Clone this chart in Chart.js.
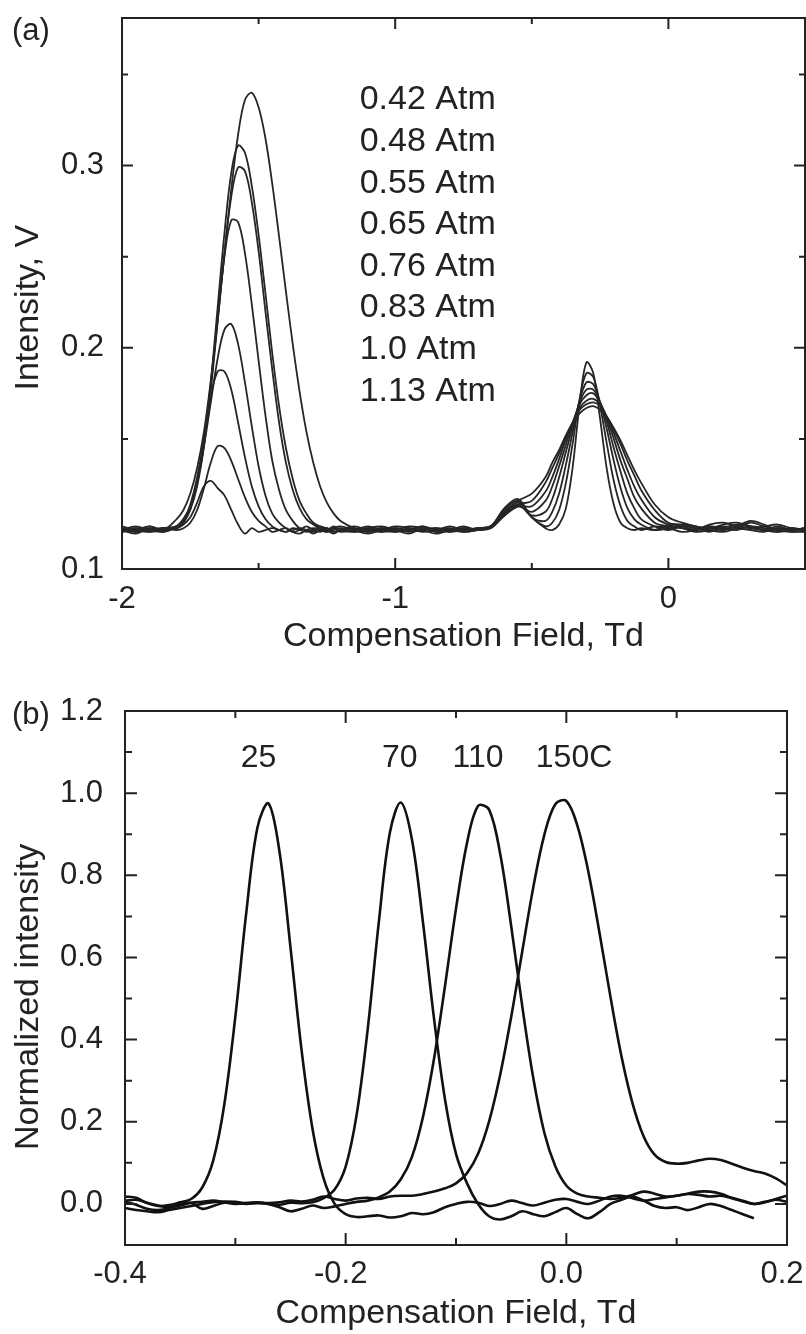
<!DOCTYPE html>
<html lang="en">
<head>
<meta charset="UTF-8">
<title>Compensation field spectra</title>
<script src="https://cdn.jsdelivr.net/npm/chart.js"></script>
<style>
  body { margin: 0; background: #fff; }
  .panel { width: 806px; height: 667px; }
  canvas { display: block; }
</style>
</head>
<body>
<div class="panel"><canvas id="chartA" width="806" height="667"></canvas></div>
<div class="panel"><canvas id="chartB" width="806" height="667"></canvas></div>
<script>
// ---- panel (a): intensity vs compensation field at several pressures ----
const fieldA = [-2.00, -1.95, -1.90, -1.85, -1.80,
  -1.775, -1.75, -1.725, -1.70, -1.675, -1.65, -1.625, -1.60, -1.575, -1.55,
  -1.525, -1.50, -1.475, -1.45, -1.425, -1.40, -1.375, -1.35, -1.325, -1.30,
  -1.275, -1.25, -1.225, -1.20,
  -1.15, -1.10, -1.05, -1.00, -0.95, -0.90, -0.85, -0.80, -0.75, -0.70,
  -0.65, -0.60, -0.55, -0.50, -0.45,
  -0.425, -0.40, -0.375, -0.35, -0.325, -0.30, -0.275, -0.25, -0.225, -0.20, -0.175, -0.15, -0.125, -0.10,
  -0.05, 0.00, 0.05, 0.10, 0.15, 0.20, 0.25, 0.30, 0.35, 0.40, 0.45, 0.50];

const atm042 = [.101,.099,.102,.100,.106,.111,.120,.134,.154,.182,
  .215,.252,.287,.317,.336,.340,.332,.315,.290,.261,
  .231,.202,.176,.154,.137,.124,.115,.109,.105,.101,
  .099,.101,.100,.098,.101,.100,.102,.100,.101,.102,
  .109,.116,.120,.129,.137,.144,.152,.159,.164,.167,
  .168,.166,.162,.156,.149,.141,.133,.126,.114,.107,
  .104,.102,.101,.103,.104,.102,.100,.101,.099,.100];
const atm048 = [.099,.101,.100,.101,.102,.105,.112,.126,.148,.181,
  .222,.263,.296,.311,.307,.289,.262,.230,.197,.168,
  .145,.128,.116,.109,.104,.102,.101,.099,.100,.102,
  .100,.099,.101,.100,.102,.099,.100,.101,.100,.102,
  .108,.114,.116,.126,.134,.142,.151,.159,.166,.169,
  .170,.168,.162,.155,.147,.138,.130,.122,.111,.104,
  .103,.101,.102,.100,.102,.105,.103,.100,.099,.099];
const atm055 = [.100,.098,.101,.099,.102,.106,.113,.126,.147,.177,
  .214,.252,.283,.299,.297,.280,.253,.220,.188,.159,
  .137,.122,.112,.106,.103,.101,.099,.100,.101,.099,
  .101,.102,.100,.099,.100,.101,.099,.100,.100,.101,
  .108,.113,.113,.121,.129,.139,.150,.159,.167,.171,
  .172,.169,.162,.153,.143,.133,.124,.117,.107,.103,
  .101,.100,.103,.104,.102,.101,.102,.103,.101,.100];
const atm065 = [.102,.100,.099,.101,.101,.104,.111,.124,.146,.179,
  .216,.250,.270,.269,.252,.224,.193,.163,.138,.122,
  .111,.105,.101,.100,.098,.100,.101,.099,.100,.101,
  .099,.100,.102,.101,.099,.100,.101,.099,.100,.102,
  .108,.113,.110,.116,.124,.135,.147,.159,.169,.174,
  .175,.170,.161,.150,.138,.128,.118,.112,.104,.102,
  .101,.099,.100,.102,.101,.100,.099,.101,.100,.101];
const atm076 = [.100,.102,.100,.099,.102,.106,.113,.126,.146,.170,
  .194,.210,.213,.202,.181,.157,.135,.119,.109,.104,
  .101,.099,.098,.100,.101,.100,.099,.101,.102,.100,
  .098,.100,.101,.100,.102,.100,.099,.101,.100,.102,
  .109,.114,.108,.110,.117,.129,.143,.157,.170,.177,
  .177,.170,.159,.145,.132,.120,.112,.106,.102,.100,
  .102,.101,.099,.101,.103,.102,.100,.099,.101,.100];
const atm083 = [.099,.100,.102,.100,.102,.105,.114,.129,.150,.173,
  .187,.187,.177,.159,.140,.124,.113,.106,.102,.100,
  .099,.101,.100,.099,.100,.102,.100,.098,.100,.100,
  .102,.100,.099,.101,.100,.098,.100,.100,.101,.102,
  .110,.115,.107,.105,.110,.120,.136,.154,.171,.181,
  .180,.170,.155,.138,.123,.112,.106,.103,.100,.101,
  .103,.102,.100,.099,.101,.104,.102,.100,.101,.099];
const atm100 = [.101,.099,.100,.101,.100,.101,.104,.111,.123,.137,
  .146,.145,.138,.128,.118,.110,.105,.102,.099,.100,
  .101,.099,.100,.102,.100,.099,.100,.101,.099,.100,
  .101,.099,.100,.102,.101,.099,.100,.102,.100,.102,
  .111,.116,.107,.102,.104,.111,.126,.148,.172,.186,
  .184,.168,.147,.127,.113,.105,.102,.100,.102,.101,
  .099,.100,.102,.101,.100,.102,.101,.099,.100,.101];
const atm113 = [.100,.101,.099,.100,.101,.103,.107,.115,.124,.127,
  .123,.119,.111,.103,.098,.101,.099,.100,.101,.100,
  .099,.100,.101,.100,.099,.101,.100,.102,.100,.099,
  .100,.101,.099,.100,.100,.101,.100,.099,.100,.102,
  .112,.117,.107,.101,.100,.103,.112,.135,.169,.192,
  .186,.161,.133,.114,.104,.101,.100,.101,.100,.103,
  .102,.100,.101,.100,.102,.101,.100,.102,.100,.101];

const pressureLabels = ['0.42 Atm', '0.48 Atm', '0.55 Atm', '0.65 Atm', '0.76 Atm', '0.83 Atm', '1.0 Atm', '1.13 Atm'];
const pressureSeries = [atm042, atm048, atm055, atm065, atm076, atm083, atm100, atm113];

// y axis of (a): the bottom corner carries the "0.1" label in the original figure
const aYMin = 0.0786, aYMax = 0.381;
const aYTicks = [aYMin, 0.15, 0.2, 0.25, 0.3, 0.35];
const aYTickLabels = ['0.1', '', '0.2', '', '0.3', ''];

// ---- panel (b): normalized intensity at several temperatures ----
const fieldB = [-0.40,-0.39,-0.38,-0.37,-0.36,-0.35,-0.34,-0.33,-0.32,-0.31,
  -0.30,-0.29,-0.28,-0.27,-0.26,-0.25,-0.24,-0.23,-0.22,-0.21,
  -0.20,-0.19,-0.18,-0.17,-0.16,-0.15,-0.14,-0.13,-0.12,-0.11,
  -0.10,-0.09,-0.08,-0.07,-0.06,-0.05,-0.04,-0.03,-0.02,-0.01,
  0.00,0.01,0.02,0.03,0.04,0.05,0.06,0.07,0.08,0.09,
  0.10,0.11,0.12,0.13,0.14,0.15,0.16,0.17,0.18,0.19,
  0.20];

const temp25 = [.018,.015,.002,-.005,-.003,.004,.012,.040,.106,.242,
  .456,.711,.916,.975,.858,.624,.375,.182,.062,.000,
  -.025,-.032,-.030,-.028,-.033,-.030,-.022,-.025,-.020,-.008,
  .000,.005,.003,-.005,.000,.008,.002,-.004,.003,.010,
  .012,.005,.000,.008,.018,.020,.014,.008,.012,.016,
  .020,.024,.022,.018,.020,.014,.006,.000,.004,.012,
  .020];
const temp70 = [.005,-.002,-.012,-.015,-.010,.000,.002,-.012,-.005,.003,
  .002,.000,.002,.000,-.002,.003,.002,.004,.014,.035,
  .091,.218,.426,.685,.903,.977,.888,.687,.453,.255,
  .122,.050,.000,-.030,-.038,-.030,-.018,-.025,-.030,-.020,
  -.010,-.025,-.035,-.020,.000,.010,.018,.008,-.005,-.010,
  -.008,-.015,-.008,.000,-.005,-.015,-.025,-.035,null,null,
  null];
const temp110 = [.008,.010,.003,-.004,-.008,-.004,.003,.005,.008,.004,
  .000,.002,.004,.000,-.008,-.018,-.012,-.004,-.010,-.006,
  .000,.005,.008,.016,.030,.060,.114,.211,.352,.530,
  .719,.879,.969,.960,.853,.677,.482,.307,.174,.092,
  .045,.025,.018,.015,.012,.015,.022,.030,.025,.018,
  .020,.025,.030,.030,.025,.015,.008,.000,.005,.010,
  .005];
const temp150 = [-.010,-.015,-.018,-.020,-.015,-.010,-.005,.000,.004,.006,
  .005,.002,.003,.002,.004,.008,.006,.010,.018,.012,
  .008,.013,.015,.012,.018,.020,.020,.024,.030,.038,
  .050,.075,.122,.201,.314,.455,.614,.770,.898,.973,
  .981,.921,.808,.661,.504,.359,.245,.165,.120,.102,
  .098,.100,.106,.110,.107,.098,.088,.080,.074,.062,
  .045];

const tempLabels = ['25', '70', '110', '150C'];
const tempLabelX = [-0.279, -0.151, -0.080, 0.007];
const tempSeries = [temp25, temp70, temp110, temp150];

// ---- shared helpers ----
const FONT = '"Liberation Sans", Arial, Helvetica, sans-serif';
Chart.defaults.font.family = FONT;
Chart.defaults.color = '#222';

function toPoints(xs, ys) {
  return xs.map((x, i) => ({ x: x, y: ys[i] }));
}

// box frame with inward ticks on all four sides
function frameTicks(majorLen, minorLen) {
  return {
    id: 'frameTicks',
    afterDraw(chart) {
      const { ctx, chartArea: a, scales: { x, y } } = chart;
      ctx.save();
      ctx.strokeStyle = '#222';
      ctx.lineWidth = 2;
      ctx.strokeRect(a.left, a.top, a.right - a.left, a.bottom - a.top);
      ctx.beginPath();
      x.ticks.forEach(t => {
        if (t.value <= x.min + 1e-9 || t.value >= x.max - 1e-9) return;
        const px = x.getPixelForValue(t.value);
        const len = t.label ? majorLen : minorLen;
        ctx.moveTo(px, a.bottom); ctx.lineTo(px, a.bottom - len);
        ctx.moveTo(px, a.top); ctx.lineTo(px, a.top + len);
      });
      y.ticks.forEach(t => {
        if (t.value <= y.min + 1e-9 || t.value >= y.max - 1e-9) return;
        const py = y.getPixelForValue(t.value);
        const len = t.label ? majorLen : minorLen;
        ctx.moveTo(a.left, py); ctx.lineTo(a.left + len, py);
        ctx.moveTo(a.right, py); ctx.lineTo(a.right - len, py);
      });
      ctx.stroke();
      ctx.restore();
    }
  };
}

function textNotes(drawFn) {
  return { id: 'textNotes', afterDraw(chart) { drawFn(chart, chart.ctx); } };
}

function tenthsLabel(v) {
  const r = Math.round(v * 10);
  return r % 2 === 0 ? (r / 10).toFixed(1) : '';
}

// fixed axis boxes, no extra room for overhanging end labels
function fixX(h) { return s => { s.height = h; s.paddingLeft = 0; s.paddingRight = 0; }; }
function fixY(w) { return s => { s.width = w; s.paddingTop = 0; s.paddingBottom = 0; }; }

// ---- chart (a) ----
new Chart(document.getElementById('chartA'), {
  type: 'line',
  data: {
    datasets: pressureSeries.map((ys, i) => ({
      label: pressureLabels[i],
      data: toPoints(fieldA, ys),
      borderColor: '#262626',
      borderWidth: 1.8,
      pointRadius: 0,
      tension: 0.35,
      fill: false
    }))
  },
  options: {
    responsive: false,
    animation: false,
    layout: { padding: { top: 18, right: 1, left: 0, bottom: 0 } },
    plugins: { legend: { display: false }, tooltip: { enabled: false } },
    scales: {
      x: {
        type: 'linear', min: -2, max: 0.5,
        grid: { display: false }, border: { display: false },
        ticks: {
          stepSize: 0.5, autoSkip: false, maxRotation: 0, padding: 4,
          font: { size: 31 },
          callback: v => Number.isInteger(v) ? String(v) : ''
        },
        title: { display: true, text: 'Compensation Field, Td', font: { size: 34 }, padding: { top: 0, bottom: 10 } },
        afterFit: fixX(98)
      },
      y: {
        type: 'linear', min: aYMin, max: aYMax,
        grid: { display: false }, border: { display: false },
        afterBuildTicks: s => { s.ticks = aYTicks.map(v => ({ value: v })); },
        ticks: { padding: 10, font: { size: 31 }, autoSkip: false, callback: (v, i) => aYTickLabels[i] },
        title: { display: true, text: 'Intensity, V   ', font: { size: 34 }, padding: { top: 8, bottom: 0 } },
        afterFit: fixY(122)
      }
    }
  },
  plugins: [frameTicks(11, 6), textNotes((chart, ctx) => {
    const { x, y } = chart.scales;
    ctx.save();
    ctx.fillStyle = '#222';
    ctx.textBaseline = 'middle';
    ctx.textAlign = 'left';
    ctx.font = '34px ' + FONT;
    const left = x.getPixelForValue(-1.13);
    const top = y.getPixelForValue(0.336);
    pressureLabels.forEach((t, i) => ctx.fillText(t, left, top + i * 41.6));
    ctx.font = '31px ' + FONT;
    ctx.fillText('(a)', 12, 31);
    ctx.restore();
  })]
});

// ---- chart (b) ----
new Chart(document.getElementById('chartB'), {
  type: 'line',
  data: {
    datasets: tempSeries.map((ys, i) => ({
      label: tempLabels[i],
      data: toPoints(fieldB, ys),
      borderColor: '#111',
      borderWidth: 2.6,
      pointRadius: 0,
      tension: 0.35,
      fill: false
    }))
  },
  options: {
    responsive: false,
    animation: false,
    layout: { padding: { top: 44, right: 19, left: 0, bottom: 0 } },
    plugins: { legend: { display: false }, tooltip: { enabled: false } },
    scales: {
      x: {
        type: 'linear', min: -0.4, max: 0.2,
        grid: { display: false }, border: { display: false },
        ticks: {
          stepSize: 0.1, autoSkip: false, maxTicksLimit: 20, maxRotation: 0, padding: 3,
          labelOffset: -5,
          font: { size: 31 }, callback: tenthsLabel
        },
        title: { display: true, text: 'Compensation Field, Td', font: { size: 34 }, padding: { top: 0, bottom: 0 } },
        afterFit: fixX(89)
      },
      y: {
        type: 'linear', min: -0.1, max: 1.2,
        grid: { display: false }, border: { display: false },
        ticks: {
          stepSize: 0.1, autoSkip: false, maxTicksLimit: 20, padding: 14,
          font: { size: 31 }, callback: tenthsLabel
        },
        title: { display: true, text: 'Normalized intensity    ', font: { size: 34 }, padding: { top: 8, bottom: 0 } },
        afterFit: fixY(125)
      }
    }
  },
  plugins: [frameTicks(12, 7), textNotes((chart, ctx) => {
    const { x, y } = chart.scales;
    ctx.save();
    ctx.fillStyle = '#222';
    ctx.textBaseline = 'middle';
    ctx.textAlign = 'center';
    ctx.font = '32px ' + FONT;
    const py = y.getPixelForValue(1.086);
    tempLabels.forEach((t, i) => ctx.fillText(t, x.getPixelForValue(tempLabelX[i]), py));
    ctx.textAlign = 'left';
    ctx.font = '31px ' + FONT;
    ctx.fillText('(b)', 12, 48);
    ctx.restore();
  })]
});
</script>
</body>
</html>
